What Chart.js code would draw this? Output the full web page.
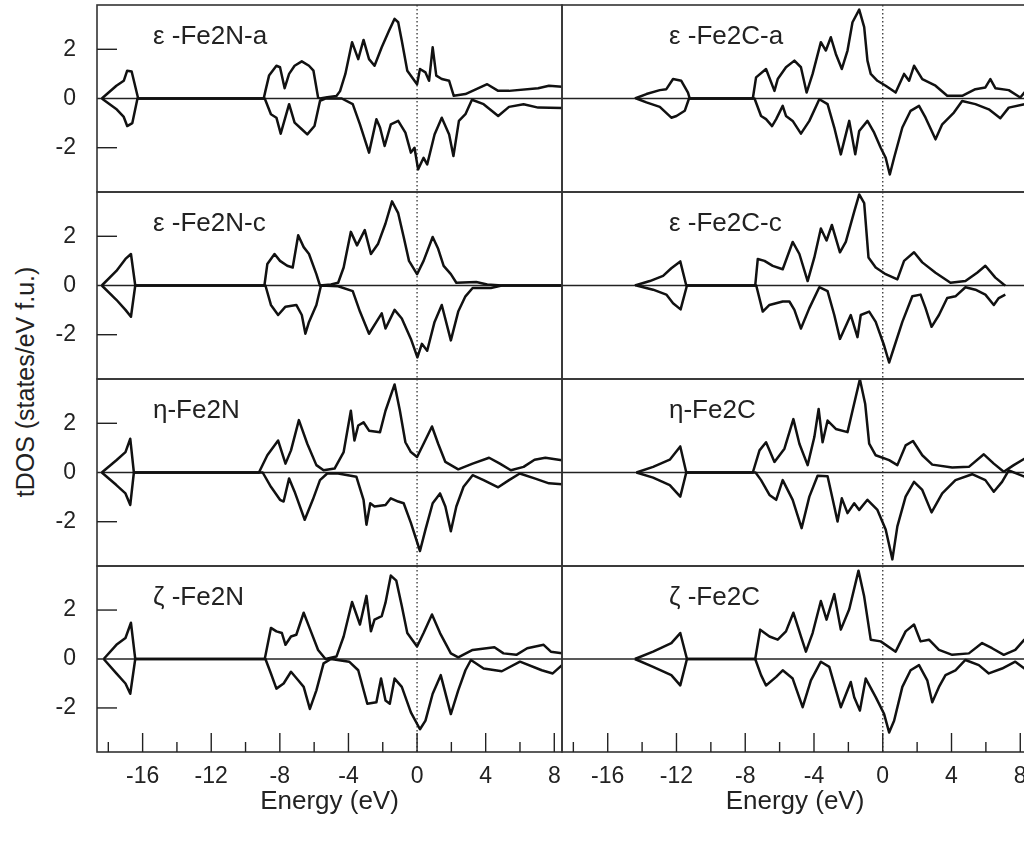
<!DOCTYPE html>
<html><head><meta charset="utf-8">
<script src="https://cdn.jsdelivr.net/npm/chart.js@4.4.1/dist/chart.umd.min.js"></script>
<style>
html,body{margin:0;padding:0;background:#fff;width:1024px;height:845px;overflow:hidden;position:relative;}
canvas{position:absolute;display:block;}
#ytitle{position:absolute;left:25px;top:382px;transform:translate(-50%,-50%) rotate(-90deg);font:25px "Liberation Sans",Arial,sans-serif;color:#222;white-space:nowrap;}
</style></head><body>
<div id="ytitle">tDOS (states/eV f.u.)</div>
<script>
// ---------- data: [energy (eV), tDOS] ----------
const eFe2NaUp = [[-18.38,0],[-17.53,0.52],[-17.1,0.72],[-16.9,1.13],[-16.64,1.1],[-16.26,0],[-8.94,0],[-8.84,0.31],[-8.63,0.93],[-8.2,1.33],[-7.99,1.27],[-7.72,0.42],[-7.46,1.0],[-7.14,1.33],[-6.72,1.51],[-6.3,1.33],[-6.04,1.13],[-5.77,0.04],[-5.66,0],[-5.24,0.05],[-4.7,0.1],[-4.49,0.3],[-4.18,1.0],[-3.79,2.29],[-3.43,1.6],[-3.12,2.38],[-2.8,1.6],[-2.48,1.33],[-2.06,2.08],[-1.63,2.76],[-1.31,3.24],[-1.1,3.1],[-0.89,2.35],[-0.57,1.13],[-0.15,0.72],[0,0.58],[0.17,1.2],[0.49,1.06],[0.7,0.72],[0.91,2.08],[1.12,0.93],[1.44,0.79],[1.87,0.72],[2.14,0.11],[2.82,0.18],[4.09,0.58],[4.73,0.31],[5.36,0.31],[7.06,0.42],[7.69,0.52],[8.45,0.48]];
const eFe2NaDn = [[-18.38,0],[-17.5,-0.45],[-17.1,-0.75],[-16.9,-1.12],[-16.6,-1.0],[-16.3,0],[-8.88,0],[-8.52,-0.64],[-8.2,-0.78],[-7.95,-1.43],[-7.46,-0.23],[-7.14,-0.98],[-6.72,-1.25],[-6.4,-1.46],[-5.98,-1.12],[-5.66,-0.1],[-5.35,0],[-4.39,0],[-3.75,-0.23],[-3.33,-1.05],[-2.8,-2.2],[-2.37,-0.84],[-2.16,-1.18],[-1.89,-1.93],[-1.53,-1.05],[-1.1,-0.91],[-0.68,-1.39],[-0.36,-2.2],[-0.15,-2.0],[0.06,-2.88],[0.38,-2.41],[0.59,-2.68],[1.02,-1.46],[1.44,-0.78],[1.87,-1.46],[2.12,-2.34],[2.44,-0.91],[2.82,-0.64],[3.2,-0.05],[3.88,-0.23],[4.73,-0.71],[5.36,-0.34],[6.21,-0.23],[7.06,-0.37],[8.45,-0.39]];
const eFe2CaUp = [[-14.42,0],[-13.75,0.18],[-12.97,0.34],[-12.59,0.38],[-12.2,0.79],[-11.72,0.72],[-11.33,0.24],[-11.23,0],[-7.56,0],[-7.37,0.86],[-6.79,1.2],[-6.3,0.31],[-6.11,0.79],[-5.63,1.27],[-5.14,1.54],[-4.76,1.27],[-4.43,0.24],[-4.08,1.0],[-3.6,2.29],[-3.31,1.95],[-3.02,2.49],[-2.73,1.81],[-2.38,1.2],[-2.05,1.95],[-1.76,3.1],[-1.37,3.61],[-1.08,2.9],[-0.89,1.54],[-0.7,1.0],[-0.31,0.72],[0.17,0.52],[0.75,0.24],[1.24,1.0],[1.53,0.72],[1.82,1.33],[2.3,0.79],[3.07,0.52],[3.75,0.11],[4.62,0.11],[5.39,0.38],[5.97,0.45],[6.26,0.79],[6.55,0.42],[7.33,0.34],[8.0,0.04],[8.24,0.24],[8.45,0.4]];
const eFe2CaDn = [[-14.33,0],[-13.75,-0.16],[-12.97,-0.34],[-12.3,-0.78],[-12.0,-0.71],[-11.52,-0.5],[-11.27,0],[-7.46,0],[-7.08,-0.71],[-6.79,-0.84],[-6.44,-1.12],[-6.2,-0.84],[-5.82,-0.3],[-5.63,-0.71],[-5.24,-0.91],[-4.76,-1.43],[-4.27,-0.91],[-3.69,-0.03],[-3.21,-0.23],[-2.82,-1.18],[-2.44,-2.27],[-1.95,-0.91],[-1.6,-2.27],[-1.37,-1.32],[-0.89,-0.91],[-0.5,-1.39],[-0.12,-2.0],[0.17,-2.41],[0.41,-3.09],[0.66,-2.41],[1.14,-1.18],[1.62,-0.5],[2.11,-0.3],[2.49,-0.78],[3.07,-1.66],[3.46,-1.05],[4.14,-0.57],[4.62,-0.1],[5.39,-0.23],[6.17,-0.44],[6.84,-0.8],[7.33,-0.37],[8.24,-0.23],[8.45,-0.2]];
const eFe2NcUp = [[-18.38,0],[-17.53,0.59],[-17.0,1.08],[-16.68,1.28],[-16.43,0],[-8.9,0],[-8.73,0.87],[-8.31,1.28],[-7.99,1.0],[-7.57,0.8],[-7.25,0.73],[-6.93,2.04],[-6.61,1.56],[-6.3,1.28],[-5.87,0.46],[-5.66,0],[-5.02,0.04],[-4.6,0.11],[-4.28,0.73],[-3.86,2.18],[-3.5,1.63],[-3.05,2.25],[-2.69,1.28],[-2.27,1.7],[-1.84,2.52],[-1.46,3.42],[-1.1,2.94],[-0.78,1.97],[-0.47,1.0],[0,0.46],[0.38,1.0],[0.91,1.97],[1.23,1.49],[1.55,0.8],[1.97,0.46],[2.29,0.11],[3.45,0.14],[4.09,0.04],[4.94,0],[8.45,0]];
const eFe2NcDn = [[-18.38,0],[-17.53,-0.58],[-17.0,-0.99],[-16.68,-1.27],[-16.43,0],[-8.84,0],[-8.52,-0.79],[-8.1,-1.2],[-7.67,-0.86],[-7.04,-0.79],[-6.72,-1.2],[-6.51,-1.96],[-6.3,-1.48],[-5.87,-0.79],[-5.6,0],[-4.6,-0.03],[-3.75,-0.23],[-3.33,-1.06],[-2.8,-1.96],[-2.37,-1.48],[-2.06,-1.13],[-1.84,-1.75],[-1.31,-0.99],[-0.89,-1.34],[-0.36,-2.17],[0.02,-2.92],[0.28,-2.37],[0.59,-2.65],[1.02,-1.48],[1.44,-0.79],[1.97,-2.23],[2.4,-1.06],[2.82,-0.44],[3.24,-0.1],[4.3,-0.1],[4.94,0],[8.45,0]];
const eFe2CcUp = [[-14.42,0],[-13.55,0.18],[-12.78,0.39],[-12.3,0.7],[-11.78,0.98],[-11.43,0],[-7.42,0],[-7.27,1.08],[-6.88,1.0],[-6.4,0.8],[-5.82,0.66],[-5.24,1.77],[-4.85,1.28],[-4.37,0.18],[-3.98,1.14],[-3.6,2.32],[-3.27,1.83],[-2.96,2.46],[-2.49,1.35],[-2.15,1.77],[-1.66,3.0],[-1.37,3.7],[-1.08,3.35],[-0.83,1.14],[-0.41,0.73],[0.17,0.46],[0.85,0.25],[1.24,1.0],[1.82,1.35],[2.3,0.94],[3.07,0.52],[3.94,0.11],[4.81,0.18],[5.49,0.52],[5.97,0.8],[6.55,0.32],[7.04,0.04],[7.13,0]];
const eFe2CcDn = [[-14.33,0],[-13.36,-0.17],[-12.59,-0.37],[-12.2,-0.72],[-11.76,-0.97],[-11.39,0],[-7.36,0],[-6.98,-1.06],[-6.59,-0.79],[-5.82,-0.65],[-5.43,-0.65],[-5.14,-0.99],[-4.76,-1.75],[-4.27,-0.92],[-3.69,-0.07],[-3.21,-0.23],[-2.82,-1.2],[-2.49,-2.17],[-1.86,-1.2],[-1.47,-2.1],[-1.28,-1.2],[-0.79,-1.06],[-0.41,-1.48],[0.08,-2.44],[0.37,-3.13],[0.66,-2.51],[1.14,-1.48],[1.72,-0.44],[2.2,-0.37],[2.49,-0.92],[2.84,-1.68],[3.27,-1.2],[3.75,-0.51],[4.23,-0.44],[4.81,-0.07],[5.39,-0.17],[5.97,-0.37],[6.46,-0.79],[6.75,-0.51],[7.13,-0.37]];
const etaFe2NUp = [[-18.38,0],[-17.53,0.5],[-17.0,0.83],[-16.72,1.37],[-16.51,0],[-9.22,0],[-8.73,0.7],[-8.1,1.3],[-7.67,0.36],[-7.35,0.9],[-6.89,2.13],[-6.4,1.17],[-5.87,0.3],[-5.45,0.09],[-4.81,0.16],[-4.28,0.83],[-3.86,2.51],[-3.65,1.3],[-3.43,1.91],[-3.12,2.04],[-2.8,1.7],[-2.16,1.64],[-1.84,2.51],[-1.31,3.58],[-1.0,2.51],[-0.68,1.23],[-0.36,0.83],[0,0.63],[0.38,1.17],[0.87,1.87],[1.23,1.17],[1.65,0.43],[2.4,0.13],[3.24,0.36],[4.2,0.6],[4.83,0.36],[5.47,0.09],[6.21,0.23],[6.85,0.52],[7.48,0.6],[8.45,0.5]];
const etaFe2NDn = [[-18.38,0],[-17.53,-0.51],[-17.0,-0.85],[-16.72,-1.32],[-16.51,0],[-9.0,0],[-8.52,-0.58],[-7.99,-1.11],[-7.78,-1.18],[-7.46,-0.24],[-7.14,-0.78],[-6.55,-1.92],[-6.08,-1.11],[-5.66,-0.31],[-5.24,-0.04],[-4.6,-0.04],[-3.54,-0.17],[-3.12,-1.11],[-2.95,-2.12],[-2.73,-1.25],[-2.48,-1.38],[-1.84,-1.32],[-1.53,-1.05],[-1.1,-1.18],[-0.78,-1.25],[-0.36,-2.05],[0.17,-3.19],[0.49,-2.32],[0.91,-1.25],[1.34,-0.85],[1.65,-1.38],[1.97,-2.39],[2.29,-1.38],[2.71,-0.58],[3.24,-0.11],[3.88,-0.31],[4.73,-0.6],[5.36,-0.31],[5.99,-0.04],[6.85,-0.24],[7.69,-0.44],[8.45,-0.48]];
const etaFe2CUp = [[-14.33,0],[-13.36,0.23],[-12.39,0.52],[-11.78,1.06],[-11.43,0],[-7.56,0],[-7.17,0.9],[-6.79,1.23],[-6.3,0.43],[-5.72,0.97],[-5.2,2.17],[-4.85,1.17],[-4.37,0.3],[-3.98,1.44],[-3.73,2.58],[-3.5,1.23],[-3.21,2.11],[-2.73,1.77],[-2.05,1.64],[-1.76,2.51],[-1.33,3.79],[-1.02,2.78],[-0.79,1.17],[-0.41,0.7],[0.37,0.5],[0.85,0.3],[1.33,1.1],[1.76,1.28],[2.3,0.7],[2.88,0.32],[4.04,0.2],[5.01,0.23],[5.88,0.74],[6.46,0.36],[7.04,0.03],[7.62,0.3],[8.24,0.56],[8.45,0.6]];
const etaFe2CDn = [[-14.33,0],[-13.36,-0.21],[-12.39,-0.51],[-11.78,-0.98],[-11.43,0],[-7.4,0],[-7.08,-0.31],[-6.59,-0.91],[-6.2,-1.11],[-5.82,-0.31],[-5.24,-1.11],[-4.72,-2.26],[-4.27,-0.98],[-3.79,-0.13],[-3.21,-0.15],[-2.82,-1.38],[-2.63,-1.99],[-2.38,-1.05],[-2.05,-1.65],[-1.66,-1.25],[-1.37,-1.52],[-0.89,-1.11],[-0.31,-1.52],[0.17,-2.32],[0.56,-3.53],[0.85,-2.19],[1.33,-0.98],[1.82,-0.38],[2.3,-0.71],[2.84,-1.62],[3.46,-0.85],[4.23,-0.31],[5.2,-0.07],[5.97,-0.31],[6.46,-0.78],[6.94,-0.38],[7.33,0.09],[8.24,-0.17],[8.45,-0.2]];
const zetaFe2NUp = [[-18.27,0],[-17.53,0.58],[-17.0,0.86],[-16.68,1.48],[-16.43,0],[-8.88,0],[-8.52,1.27],[-8.2,1.13],[-7.88,1.06],[-7.67,0.58],[-7.35,0.92],[-7.04,0.99],[-6.61,1.89],[-6.19,1.13],[-5.77,0.37],[-5.34,0],[-4.7,0.1],[-4.28,0.92],[-3.79,2.33],[-3.33,1.41],[-2.95,2.58],[-2.69,1.13],[-2.48,1.61],[-2.06,1.75],[-1.84,2.3],[-1.53,3.41],[-1.21,3.2],[-0.89,2.17],[-0.57,1.06],[0,0.51],[0.38,1.06],[0.87,1.82],[1.34,1.06],[1.97,0.23],[2.4,0.07],[3.24,0.37],[4.51,0.48],[5.04,0.23],[5.79,0.17],[6.42,0.44],[7.38,0.58],[7.8,0.3],[8.45,0.23]];
const zetaFe2NDn = [[-18.27,0],[-17.53,-0.59],[-17.0,-1.0],[-16.72,-1.42],[-16.43,0],[-8.84,0],[-8.52,-0.59],[-8.2,-1.21],[-7.78,-1.0],[-7.35,-0.52],[-6.93,-0.87],[-6.61,-1.14],[-6.25,-2.04],[-5.87,-1.28],[-5.45,-0.18],[-5.02,0],[-3.96,-0.11],[-3.43,-0.46],[-2.9,-1.83],[-2.37,-1.77],[-2.1,-0.8],[-1.84,-1.7],[-1.59,-1.83],[-1.31,-0.8],[-0.89,-1.14],[-0.36,-2.18],[0.17,-2.87],[0.49,-2.52],[0.91,-1.42],[1.38,-0.66],[1.97,-2.25],[2.4,-1.28],[2.82,-0.46],[3.14,-0.04],[3.88,-0.39],[4.94,-0.5],[6.0,-0.11],[7.27,-0.46],[7.91,-0.59],[8.45,-0.25]];
const zetaFe2CUp = [[-14.42,0],[-13.36,0.3],[-12.3,0.65],[-11.78,1.06],[-11.39,0],[-7.42,0],[-7.13,1.2],[-6.59,0.92],[-6.11,0.79],[-5.63,1.13],[-5.2,1.89],[-4.76,0.92],[-4.47,0.3],[-4.08,1.06],[-3.6,2.37],[-3.27,1.61],[-2.82,2.65],[-2.44,1.2],[-1.95,2.03],[-1.41,3.61],[-1.08,2.55],[-0.7,0.79],[-0.12,0.72],[0.75,0.3],[1.33,1.13],[1.82,1.41],[2.2,0.72],[2.69,0.79],[3.27,0.37],[4.04,0.17],[5.01,0.23],[5.78,0.65],[6.36,0.44],[7.04,0.17],[7.71,0.37],[8.24,0.79],[8.45,0.9]];
const zetaFe2CDn = [[-14.42,0],[-13.36,-0.32],[-12.3,-0.66],[-11.78,-1.08],[-11.39,0],[-7.42,0],[-7.08,-0.66],[-6.79,-1.08],[-6.2,-0.73],[-5.82,-0.46],[-5.24,-0.8],[-4.66,-1.97],[-4.18,-0.87],[-3.6,-0.11],[-3.11,-0.32],[-2.44,-1.97],[-1.86,-0.94],[-1.66,-1.56],[-1.33,-2.11],[-0.99,-0.8],[-0.41,-1.56],[0.08,-2.25],[0.37,-3.0],[0.66,-2.52],[1.14,-1.14],[1.62,-0.46],[2.11,-0.25],[2.59,-0.87],[2.88,-1.77],[3.27,-1.14],[3.65,-0.66],[4.23,-0.46],[4.81,-0.04],[5.59,-0.25],[6.17,-0.59],[6.94,-0.39],[7.71,-0.11],[8.24,-0.39],[8.45,-0.45]];

const panelTitlesN = ['\u03b5 -Fe2N-a', '\u03b5 -Fe2N-c', '\u03b7-Fe2N', '\u03b6 -Fe2N'];
const panelTitlesC = ['\u03b5 -Fe2C-a', '\u03b5 -Fe2C-c', '\u03b7-Fe2C', '\u03b6 -Fe2C'];
const xTickValues = [-18,-16,-14,-12,-10,-8,-6,-4,-2,0,2,4,6,8];
const xTickLabels = ['', '-16', '', '-12', '', '-8', '', '-4', '', '0', '', '4', '', '8'];
const yTickValues = [-2, 0, 2];
const yTickLabels = ['-2', '0', '2'];
const xAxisTitle = 'Energy (eV)';

// ---------- layout / style ----------
const X_MIN = -18.66, X_MAX = 8.45, Y_MIN = -3.8, Y_MAX = 3.8;
const ROW_TOPS = [5, 192, 379, 566], PLOT_BOTTOM = 752, PAGE_H = 845;
const FONT = '"Liberation Sans", Arial, sans-serif';
const INK = '#111';

const panelDecor = {
  id: 'panelDecor',
  beforeDatasetsDraw(chart, args, o) {
    const {ctx, chartArea: a, scales: {x, y}} = chart;
    ctx.save();
    const y0 = y.getPixelForValue(0);
    ctx.strokeStyle = '#222'; ctx.lineWidth = 1.3;
    ctx.beginPath(); ctx.moveTo(a.left, y0); ctx.lineTo(a.right, y0); ctx.stroke();
    const x0 = x.getPixelForValue(0);
    ctx.setLineDash([1.4, 2.6]); ctx.lineWidth = 1.3; ctx.strokeStyle = '#333';
    ctx.beginPath(); ctx.moveTo(x0, a.top); ctx.lineTo(x0, a.bottom); ctx.stroke();
    ctx.restore();
  },
  afterDraw(chart, args, o) {
    const {ctx, chartArea: a, scales: {x, y}} = chart;
    ctx.save();
    ctx.strokeStyle = '#333'; ctx.lineWidth = 1.6;
    ctx.strokeRect(a.left, a.top, a.right - a.left, a.bottom - a.top);
    ctx.lineWidth = 1.4; ctx.strokeStyle = '#222';
    if (o.yTicks) {
      y.ticks.forEach(t => {
        if (t.value === 0) return;
        const py = y.getPixelForValue(t.value);
        ctx.beginPath(); ctx.moveTo(a.left, py); ctx.lineTo(a.left + 20, py); ctx.stroke();
      });
    }
    if (o.xTicks) {
      x.ticks.forEach(t => {
        const px = x.getPixelForValue(t.value);
        const major = xTickLabels[xTickValues.indexOf(t.value)] !== '';
        const len = major ? 19 : 10;
        ctx.beginPath(); ctx.moveTo(px, a.bottom); ctx.lineTo(px, a.bottom - len); ctx.stroke();
      });
    }
    ctx.fillStyle = '#222';
    ctx.font = '26px ' + FONT;
    ctx.textBaseline = 'middle'; ctx.textAlign = 'left';
    ctx.fillText(o.label, a.left + o.labelDx, a.top + 32);
    ctx.restore();
  }
};

function toPoints(arr) { return arr.map(p => ({x: p[0], y: p[1]})); }
function zeroPad(s) { s.paddingLeft = 0; s.paddingRight = 0; s.paddingTop = 0; s.paddingBottom = 0; }

function makePanel(col, row, up, dn, label) {
  const isLeft = col === 0, isBottom = row === 3;
  const top = ROW_TOPS[row];
  const bottom = row < 3 ? ROW_TOPS[row + 1] : PLOT_BOTTOM;
  const cLeft = isLeft ? 0 : 560;
  const cWidth = isLeft ? 564 : 470;
  const cTop = top - 2;
  const cHeight = isBottom ? (PAGE_H - cTop) : (bottom - top + 4);
  const canvas = document.createElement('canvas');
  canvas.width = cWidth; canvas.height = cHeight;
  canvas.style.left = cLeft + 'px'; canvas.style.top = cTop + 'px';
  canvas.style.width = cWidth + 'px'; canvas.style.height = cHeight + 'px';
  document.body.appendChild(canvas);
  const lineStyle = {borderColor: INK, borderWidth: 2.5, pointRadius: 0, tension: 0, fill: false, borderJoinStyle: 'round'};
  new Chart(canvas, {
    type: 'line',
    data: {datasets: [
      Object.assign({label: 'up', data: toPoints(up)}, lineStyle),
      Object.assign({label: 'down', data: toPoints(dn)}, lineStyle)
    ]},
    options: {
      responsive: false, animation: false, devicePixelRatio: 1,
      layout: {padding: {top: 2, right: 2, left: 0, bottom: 0}},
      plugins: {
        legend: {display: false}, tooltip: {enabled: false},
        panelDecor: {label: label, labelDx: isLeft ? 56 : 107, yTicks: isLeft, xTicks: isBottom}
      },
      scales: {
        x: {
          type: 'linear', min: X_MIN, max: X_MAX,
          grid: {display: false, drawTicks: false}, border: {display: false},
          afterBuildTicks: s => { s.ticks = xTickValues.map(v => ({value: v})); },
          ticks: {display: isBottom, autoSkip: false, maxRotation: 0, minRotation: 0, padding: 11,
                  color: '#222', font: {family: FONT, size: 23},
                  callback: v => { const i = xTickValues.indexOf(v); return i >= 0 ? xTickLabels[i] : ''; }},
          title: {display: isBottom, text: xAxisTitle, color: '#222', font: {family: FONT, size: 26}, padding: {top: 0, bottom: 28}},
          afterFit: s => { s.height = isBottom ? PAGE_H - PLOT_BOTTOM : 2; zeroPad(s); }
        },
        y: {
          type: 'linear', min: Y_MIN, max: Y_MAX,
          grid: {display: false, drawTicks: false}, border: {display: false},
          afterBuildTicks: s => { s.ticks = yTickValues.map(v => ({value: v})); },
          ticks: {display: isLeft, padding: 21, color: '#222', font: {family: FONT, size: 23},
                  callback: v => { const i = yTickValues.indexOf(v); return i >= 0 ? yTickLabels[i] : ''; }},
          afterFit: s => { s.width = isLeft ? 97 : 2; zeroPad(s); }
        }
      }
    },
    plugins: [panelDecor]
  });
}

const leftSeries = [[eFe2NaUp, eFe2NaDn], [eFe2NcUp, eFe2NcDn], [etaFe2NUp, etaFe2NDn], [zetaFe2NUp, zetaFe2NDn]];
const rightSeries = [[eFe2CaUp, eFe2CaDn], [eFe2CcUp, eFe2CcDn], [etaFe2CUp, etaFe2CDn], [zetaFe2CUp, zetaFe2CDn]];
for (let r = 0; r < 4; r++) {
  makePanel(0, r, leftSeries[r][0], leftSeries[r][1], panelTitlesN[r]);
  makePanel(1, r, rightSeries[r][0], rightSeries[r][1], panelTitlesC[r]);
}
</script>
</body></html>
